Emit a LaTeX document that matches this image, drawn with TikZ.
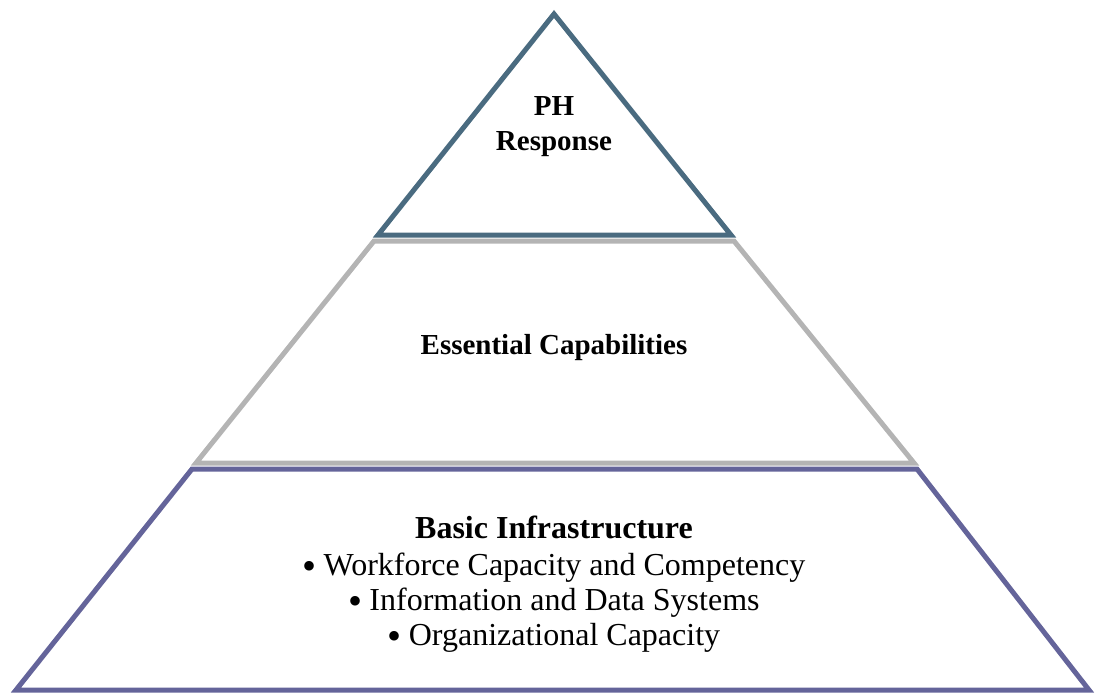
\documentclass[tikz,border=0pt]{standalone}
\usepackage{fontspec}
\setmainfont{Liberation Serif}
\definecolor{apexcol}{HTML}{4A6B80}
\definecolor{midcol}{HTML}{B4B4B4}
\definecolor{basecol}{HTML}{64649A}
\newcommand{\itembullet}{\raisebox{-4.5pt}{\scalebox{1.25}{•}}\hspace{0.22em}}
\begin{document}
\begin{tikzpicture}[x=1pt,y=-1pt,
  tier/.style={line width=5pt, line join=miter, miter limit=10},
  title/.style={font=\fontsize{29}{31}\selectfont\bfseries, anchor=base, inner sep=0pt},
  bigtitle/.style={font=\fontsize{32}{34}\selectfont\bfseries, anchor=base, inner sep=0pt},
  item/.style={font=\fontsize{32}{34}\selectfont, anchor=base, inner sep=0pt}]
  \useasboundingbox (0,0) rectangle (1095,694);
  % three tiers of the pyramid
  \draw[tier, draw=apexcol] (554,14) -- (731,235) -- (378,235) -- cycle;
  \draw[tier, draw=midcol] (374,241) -- (734,241) -- (914,463) -- (196,463) -- cycle;
  \draw[tier, draw=basecol] (192,469) -- (917,469) -- (1089,690) -- (16,690) -- cycle;
  % labels
  \node[title] (ph) at (554,115) {PH};
  \node[title] (resp) at (554,150) {Response};
  \node[title] (ess) at (554,354) {Essential Capabilities};
  \node[bigtitle] (basic) at (554,538) {Basic Infrastructure};
  \node[item] (wf) at (554,575) {\itembullet Workforce Capacity and Competency};
  \node[item] (ids) at (554,610) {\itembullet Information and Data Systems};
  \node[item] (org) at (554,645) {\itembullet Organizational Capacity};
\end{tikzpicture}
\end{document}
